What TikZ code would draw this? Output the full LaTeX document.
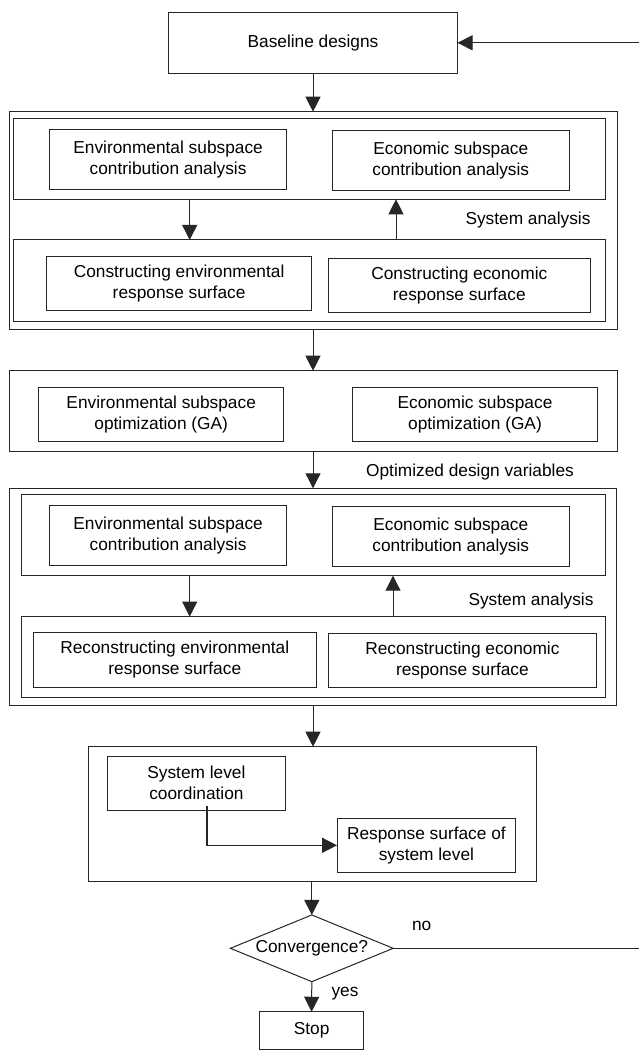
\documentclass[tikz,border=0pt]{standalone}
\usepackage{fontspec}
\setmainfont{Liberation Sans}
\usetikzlibrary{arrows.meta,shapes.geometric}
\begin{document}
\begin{tikzpicture}[x=1pt,y=-1pt,
  font=\fontsize{17.3}{21}\selectfont,
  box/.style={draw=black!85,line width=1pt,inner sep=0pt,outer sep=0pt,align=center},
  frame/.style={draw=black!85,line width=1pt,inner sep=0pt,outer sep=0pt},
  arr/.style={draw=black!85,line width=1pt,-{Triangle[width=15pt,length=15pt]}},
  lbl/.style={inner sep=0pt,anchor=center}]
\useasboundingbox (0,0) rectangle (638,1050);

% Baseline
\node[box,minimum width=289pt,minimum height=61pt] (base) at (313,42.8) {Baseline designs};

% First system analysis block
\node[frame,minimum width=608.4pt,minimum height=217.6pt] (outer1) at (313.2,220.5) {};
\node[frame,minimum width=592.6pt,minimum height=81pt] (top1) at (309.3,158.8) {};
\node[box,minimum width=236.8pt,minimum height=59.6pt] (env1) at (168.1,159.5) {Environmental subspace\\contribution analysis};
\node[box,minimum width=236.5pt,minimum height=60pt] (eco1) at (450.8,160.3) {Economic subspace\\contribution analysis};
\node[frame,minimum width=592.6pt,minimum height=81.7pt] (bot1) at (309.3,280.8) {};
\node[box,minimum width=264.6pt,minimum height=54.3pt] (cenv) at (179.1,283.8) {Constructing environmental\\response surface};
\node[box,minimum width=261.5pt,minimum height=54.4pt] (ceco) at (459.3,285.5) {Constructing economic\\response surface};
\node[lbl] (sa1) at (528,220) {System analysis};

% Optimization block
\node[frame,minimum width=608.4pt,minimum height=81pt] (opt) at (313.2,411.2) {};
\node[box,minimum width=245pt,minimum height=54pt] (oenv) at (161.2,414.3) {Environmental subspace\\optimization (GA)};
\node[box,minimum width=245pt,minimum height=54pt] (oeco) at (475,414.3) {Economic subspace\\optimization (GA)};
\node[lbl] (odv) at (470,471.7) {Optimized design variables};

% Second system analysis block
\node[frame,minimum width=607.6pt,minimum height=217.4pt] (outer2) at (312.8,597) {};
\node[frame,minimum width=584.4pt,minimum height=81.4pt] (top2) at (313.4,535) {};
\node[box,minimum width=236.8pt,minimum height=60pt] (env2) at (168.1,535.7) {Environmental subspace\\contribution analysis};
\node[box,minimum width=236.5pt,minimum height=60pt] (eco2) at (450.8,536.7) {Economic subspace\\contribution analysis};
\node[frame,minimum width=584.4pt,minimum height=81.3pt] (bot2) at (313.4,657.3) {};
\node[box,minimum width=282.8pt,minimum height=54.6pt] (renv) at (174.8,660) {Reconstructing environmental\\response surface};
\node[box,minimum width=268.7pt,minimum height=54.4pt] (reco) at (462.4,660.5) {Reconstructing economic\\response surface};
\node[lbl] (sa2) at (531,601) {System analysis};

% System level block
\node[frame,minimum width=448.5pt,minimum height=135pt] (sys) at (312.6,814.2) {};
\node[box,minimum width=178.7pt,minimum height=54pt] (coord) at (196.4,783) {System level\\coordination};
\node[box,minimum width=178.7pt,minimum height=54pt] (resp) at (426.4,845.3) {Response surface of\\system level};

% Decision and stop
\node[draw=black!85,line width=1pt,diamond,aspect=2.44,minimum width=162.8pt,minimum height=66.7pt,inner sep=0pt,outer sep=0pt] (conv) at (311.8,948.3) {Convergence?};
\node[box,minimum width=103.8pt,minimum height=37.3pt] (stop) at (311.6,1030.4) {Stop};
\node[lbl] (no) at (421.7,926) {no};
\node[lbl] (yes) at (345,993.3) {yes};

% helper x positions
\coordinate (xa) at (189.7,0);
\coordinate (xb) at (396,0);
\coordinate (xc) at (393,0);
\coordinate (xd) at (207,0);
\coordinate (fbr) at (642,0);

% connectors
\draw[arr] (base.south) -- (base.south |- outer1.north);
\draw[arr] (top1.south -| xa) -- (bot1.north -| xa);
\draw[arr] (bot1.north -| xb) -- (top1.south -| xb);
\draw[arr] (outer1.south -| base.south) -- (opt.north -| base.south);
\draw[arr] (opt.south -| base.south) -- (outer2.north -| base.south);
\draw[arr] (top2.south -| xa) -- (bot2.north -| xa);
\draw[arr] (bot2.north -| xc) -- (top2.south -| xc);
\draw[arr] (outer2.south -| base.south) -- (sys.north -| base.south);
\draw[arr,line width=1.4pt] ([yshift=4pt]coord.south -| xd) |- (resp.west);
\draw[arr] (sys.south -| conv.north) -- (conv.north);
\draw[arr] (conv.south) -- (stop.north);
\draw[arr] (conv.east) -- (conv.east -| fbr) |- (base.east);
\end{tikzpicture}
\end{document}
